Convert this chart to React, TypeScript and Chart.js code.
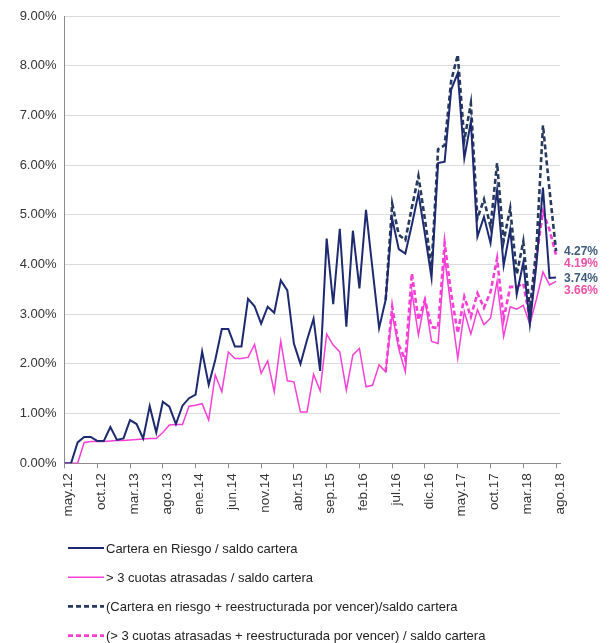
import React, { useEffect, useRef } from "react";
import { Chart, registerables } from "chart.js";

Chart.register(...registerables);

const months = [
  "may.12", "jun.12", "jul.12", "ago.12", "sep.12", "oct.12", "nov.12", "dic.12",
  "ene.13", "feb.13", "mar.13", "abr.13", "may.13", "jun.13", "jul.13", "ago.13", "sep.13", "oct.13", "nov.13", "dic.13",
  "ene.14", "feb.14", "mar.14", "abr.14", "may.14", "jun.14", "jul.14", "ago.14", "sep.14", "oct.14", "nov.14", "dic.14",
  "ene.15", "feb.15", "mar.15", "abr.15", "may.15", "jun.15", "jul.15", "ago.15", "sep.15", "oct.15", "nov.15", "dic.15",
  "ene.16", "feb.16", "mar.16", "abr.16", "may.16", "jun.16", "jul.16", "ago.16", "sep.16", "oct.16", "nov.16", "dic.16",
  "ene.17", "feb.17", "mar.17", "abr.17", "may.17", "jun.17", "jul.17", "ago.17", "sep.17", "oct.17", "nov.17", "dic.17",
  "ene.18", "feb.18", "mar.18", "abr.18", "may.18", "jun.18", "jul.18", "ago.18",
];

// Cartera en Riesgo / saldo cartera (%)
const riesgo = [
  0, 0, 0.42, 0.53, 0.53, 0.45, 0.45, 0.73, 0.47, 0.5,
  0.87, 0.79, 0.5, 1.15, 0.62, 1.24, 1.14, 0.79, 1.16, 1.31,
  1.38, 2.25, 1.58, 2.08, 2.7, 2.7, 2.35, 2.35, 3.31, 3.16,
  2.81, 3.15, 3.03, 3.68, 3.48, 2.41, 2.0, 2.48, 2.91, 1.86,
  4.52, 3.2, 4.72, 2.75, 4.68, 3.52, 5.1, 3.9, 2.72, 3.29,
  4.92, 4.31, 4.22, 4.8, 5.43, 4.6, 3.73, 6.04, 6.07, 7.52,
  7.85, 6.14, 6.87, 4.56, 4.96, 4.43, 5.5, 3.98, 4.7, 3.4,
  4.04, 2.8, 4.0, 5.55, 3.73, 3.74,
];

// > 3 cuotas atrasadas / saldo cartera (%)
const cuotas = [
  0, 0, 0, 0.42, 0.44, 0.44, 0.44, 0.45, 0.46, 0.46,
  0.47, 0.48, 0.49, 0.5, 0.5, 0.62, 0.77, 0.78, 0.78, 1.15,
  1.17, 1.2, 0.87, 1.78, 1.44, 2.24, 2.11, 2.11, 2.13, 2.39,
  1.81, 2.06, 1.44, 2.46, 1.66, 1.64, 1.03, 1.03, 1.79, 1.46,
  2.6, 2.38, 2.24, 1.47, 2.18, 2.31, 1.54, 1.57, 1.98, 1.84,
  3.0, 2.3, 1.84, 3.45, 2.58, 3.29, 2.45, 2.41, 4.14, 3.1,
  2.11, 3.05, 2.6, 3.09, 2.79, 2.92, 3.66, 2.55, 3.15, 3.1,
  3.18, 2.8, 3.3, 3.85, 3.59, 3.66,
];

// (Cartera en riesgo + reestructurada por vencer)/saldo cartera (%), from jun.16
const riesgoReestStart = 49;
const riesgoReest = [
  3.29, 5.22, 4.6, 4.49, 5.15, 5.78, 4.9, 3.95, 6.32, 6.4,
  7.7, 8.22, 6.5, 7.24, 4.93, 5.31, 4.76, 6.04, 4.47, 5.13,
  3.8, 4.46, 3.1, 4.32, 6.8, 5.5, 4.27,
];

// (> 3 cuotas atrasadas + reestructurada por vencer) / saldo cartera (%), from jun.16
const cuotasReest = [
  1.84, 3.15, 2.38, 2.08, 3.82, 2.88, 3.29, 2.74, 2.72, 4.43,
  3.4, 2.62, 3.35, 2.95, 3.42, 3.13, 3.45, 4.12, 2.9, 3.55,
  3.55, 3.62, 2.9, 4.15, 5.06, 4.7, 4.19,
];

const seriesNames = [
  "Cartera en Riesgo / saldo cartera",
  "> 3 cuotas atrasadas / saldo cartera",
  "(Cartera en riesgo + reestructurada por vencer)/saldo cartera",
  "(> 3 cuotas atrasadas + reestructurada por vencer) / saldo cartera",
];

const FONT = "'Liberation Sans', Arial, sans-serif";
const NAVY = "#1d2a70";
const NAVY_DASH = "#263a5e";
const PINK = "#f53fd6";
const PINK_DASH = "#f53fd6";
const LABEL_BLUE = "#3d5c7e";
const LABEL_PINK = "#ef4fa8";

export default function App() {
  const ref = useRef<HTMLCanvasElement>(null);

  useEffect(() => {
    document.body.style.margin = "0";
    const canvas = ref.current;
    if (!canvas) return;

    const toXY = (arr: number[], start = 0) => arr.map((v, i) => ({ x: i + start, y: v }));

    const legendPlugin = {
      id: "customLegend",
      afterDraw(chart: any) {
        const ctx = chart.ctx;
        ctx.save();
        chart.data.datasets.forEach((ds: any, i: number) => {
          const y = 548 + i * 29.2;
          ctx.beginPath();
          ctx.strokeStyle = ds.borderColor;
          ctx.lineWidth = ds.borderWidth;
          ctx.setLineDash(ds.borderDash || []);
          ctx.moveTo(68, y);
          ctx.lineTo(104, y);
          ctx.stroke();
          ctx.setLineDash([]);
          ctx.fillStyle = "#222";
          ctx.font = `13px ${FONT}`;
          ctx.textBaseline = "middle";
          ctx.textAlign = "left";
          ctx.fillText(seriesNames[i], 106, y + 1);
        });
        ctx.restore();
      },
    };

    const endLabelPlugin = {
      id: "endLabels",
      afterDatasetsDraw(chart: any) {
        const ctx = chart.ctx;
        const yScale = chart.scales.y;
        const items = [
          { v: riesgoReest[riesgoReest.length - 1], c: LABEL_BLUE },
          { v: cuotasReest[cuotasReest.length - 1], c: LABEL_PINK },
          { v: riesgo[riesgo.length - 1], c: LABEL_BLUE },
          { v: cuotas[cuotas.length - 1], c: LABEL_PINK },
        ].map((it) => ({ ...it, y: yScale.getPixelForValue(it.v) }));
        items.sort((a, b) => a.y - b.y);
        for (let k = 1; k < items.length; k++) {
          if (items[k].y - items[k - 1].y < 12) items[k].y = items[k - 1].y + 12;
        }
        ctx.save();
        ctx.font = `bold 12px ${FONT}`;
        ctx.textBaseline = "middle";
        ctx.textAlign = "left";
        items.forEach((it) => {
          ctx.fillStyle = it.c;
          ctx.fillText(it.v.toFixed(2) + "%", 564, it.y + 1);
        });
        ctx.restore();
      },
    };

    const chart = new Chart(canvas, {
      type: "line",
      data: {
        datasets: [
          {
            label: seriesNames[0],
            data: toXY(riesgo),
            borderColor: NAVY,
            borderWidth: 2,
            pointRadius: 0,
            tension: 0,
            fill: false,
          },
          {
            label: seriesNames[1],
            data: toXY(cuotas),
            borderColor: PINK,
            borderWidth: 1.5,
            pointRadius: 0,
            tension: 0,
            fill: false,
          },
          {
            label: seriesNames[2],
            data: toXY(riesgoReest, riesgoReestStart),
            borderColor: NAVY_DASH,
            borderWidth: 2.6,
            borderDash: [5, 3],
            pointRadius: 0,
            tension: 0,
            fill: false,
          },
          {
            label: seriesNames[3],
            data: toXY(cuotasReest, riesgoReestStart),
            borderColor: PINK_DASH,
            borderWidth: 2.6,
            borderDash: [5, 3],
            pointRadius: 0,
            tension: 0,
            fill: false,
          },
        ],
      },
      options: {
        animation: false,
        responsive: false,
        devicePixelRatio: 1,
        layout: { padding: { top: 16, left: 0, right: 51, bottom: 109.7 } },
        plugins: {
          legend: { display: false },
          tooltip: { enabled: false },
        },
        scales: {
          x: {
            type: "linear",
            min: 0,
            max: 75.6,
            afterBuildTicks: (s: any) => {
              s.ticks = months
                .map((_, i) => i)
                .filter((i) => i % 5 === 0)
                .map((v) => ({ value: v }));
            },
            afterFit: (s: any) => {
              s.height = 70;
            },
            ticks: {
              autoSkip: false,
              maxRotation: 90,
              minRotation: 90,
              padding: 5,
              labelOffset: 4,
              color: "#333",
              font: { family: FONT, size: 13.5 },
              callback: (v: any) => months[v as number] ?? "",
            },
            grid: {
              drawOnChartArea: false,
              drawTicks: true,
              tickLength: 5,
              color: "#8c8c8c",
            },
            border: { color: "#8c8c8c" },
          },
          y: {
            min: 0,
            max: 9,
            afterFit: (s: any) => {
              s.width = 64.5;
            },
            ticks: {
              stepSize: 1,
              padding: 8,
              color: "#333",
              font: { family: FONT, size: 13 },
              callback: (v: any) => Number(v).toFixed(2) + "%",
            },
            grid: {
              color: "#dcdcdc",
              drawTicks: false,
            },
            border: { color: "#8c8c8c" },
          },
        },
      },
      plugins: [legendPlugin, endLabelPlugin],
    });

    return () => chart.destroy();
  }, []);

  return (
    <div style={{ width: 611, height: 643, background: "#fff", overflow: "hidden" }}>
      <canvas ref={ref} width={611} height={643} style={{ display: "block" }} />
    </div>
  );
}
